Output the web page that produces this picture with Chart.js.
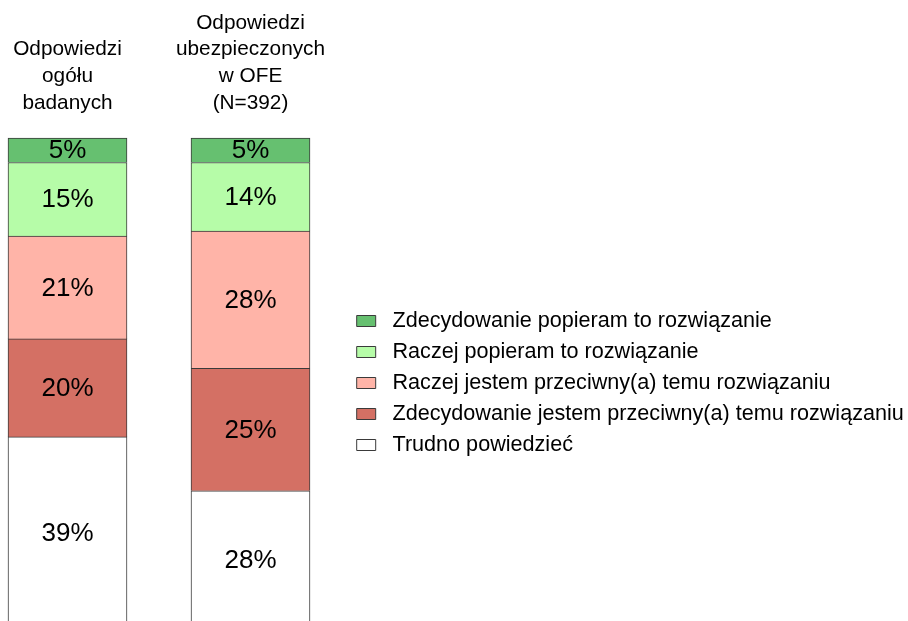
<!DOCTYPE html>
<html>
<head>
<meta charset="utf-8">
<script src="https://cdn.jsdelivr.net/npm/chart.js@4/dist/chart.umd.min.js"></script>
<style>
  html, body { margin: 0; padding: 0; background: #fff; overflow: hidden; }
  #wrap { position: relative; width: 908px; height: 640px; }
</style>
</head>
<body>
<div id="wrap"><canvas id="chart"></canvas></div>
<script>
// categories (multi-line labels above the bars)
const categories = [
  ['Odpowiedzi', 'ogółu', 'badanych'],
  ['Odpowiedzi', 'ubezpieczonych', 'w OFE', '(N=392)']
];

// series, listed from the bottom of the stack upwards
const trudno = [39, 28];
const zdecPrzeciw = [20, 25];
const raczejPrzeciw = [21, 28];
const raczejPopieram = [15, 14];
const zdecPopieram = [5, 5];

const FONT = '"Liberation Sans", Arial, Helvetica, sans-serif';

// draws the "xx%" text in the middle of every segment
const valueLabels = {
  id: 'valueLabels',
  afterDatasetsDraw(chart) {
    const ctx = chart.ctx;
    ctx.save();
    ctx.font = '26px ' + FONT;
    ctx.fillStyle = '#000';
    ctx.textAlign = 'center';
    ctx.textBaseline = 'middle';
    chart.data.datasets.forEach((ds, i) => {
      chart.getDatasetMeta(i).data.forEach((bar, j) => {
        const p = bar.getProps(['x', 'y', 'base'], true);
        ctx.fillText(ds.data[j] + '%', p.x, (p.y + p.base) / 2 + 1);
      });
    });
    ctx.restore();
  }
};

const border = '#3a3a3a';

new Chart(document.getElementById('chart'), {
  type: 'bar',
  data: {
    labels: categories,
    datasets: [
      { label: 'Trudno powiedzieć', data: trudno, backgroundColor: '#ffffff' },
      { label: 'Zdecydowanie jestem przeciwny(a) temu rozwiązaniu', data: zdecPrzeciw, backgroundColor: '#d47064' },
      { label: 'Raczej jestem przeciwny(a) temu rozwiązaniu', data: raczejPrzeciw, backgroundColor: '#ffb4a8' },
      { label: 'Raczej popieram to rozwiązanie', data: raczejPopieram, backgroundColor: '#b6fca8' },
      { label: 'Zdecydowanie popieram to rozwiązanie', data: zdecPopieram, backgroundColor: '#66c070' }
    ].map(d => Object.assign(d, { borderColor: border, borderWidth: 1, barThickness: 119, clip: false }))
  },
  options: {
    responsive: true,
    maintainAspectRatio: false,
    animation: false,
    layout: { padding: { top: 9.6, left: 67.5, right: 0, bottom: 12 } },
    scales: {
      x: {
        stacked: true,
        position: 'top',
        offset: false,
        grid: { display: false, drawTicks: false },
        border: { display: false },
        ticks: {
          color: '#000',
          padding: 21.6,
          maxRotation: 0,
          autoSkip: false,
          font: { family: FONT, size: 20.8, lineHeight: 1.284 }
        },
        afterFit(scale) {
          // 4 label lines + gap down to the bars
          scale.height = 128.4;
          scale.paddingLeft = 0;
          scale.paddingRight = 0;
        }
      },
      y: {
        stacked: true,
        position: 'right',
        min: 0,
        max: 100,
        grid: { display: false, drawTicks: false },
        border: { display: false },
        ticks: { display: false },
        afterFit(scale) {
          // empty gap between the second bar and the legend
          scale.width = 96.8;
        }
      }
    },
    plugins: {
      legend: {
        position: 'right',
        fullSize: false,
        reverse: true,
        maxWidth: 560.7,
        labels: {
          color: '#000',
          boxWidth: 19,
          boxHeight: 11,
          padding: 9.4,
          font: { family: FONT, size: 21.6 },
          generateLabels(chart) {
            // a little more room between swatch and text
            return Chart.defaults.plugins.legend.labels.generateLabels(chart)
              .map(item => Object.assign(item, { text: ' ' + item.text }));
          }
        }
      },
      tooltip: { enabled: false }
    }
  },
  plugins: [valueLabels]
});
</script>
</body>
</html>
